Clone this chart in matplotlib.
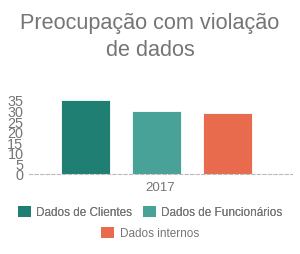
import matplotlib
matplotlib.use("Agg")
import matplotlib.pyplot as plt
from matplotlib.patches import Patch

plt.rcParams['font.family'] = ['Liberation Sans', 'DejaVu Sans']

title_lines = ["Preocupação com violação", "de dados"]
category = ["2017"]
series = ["Dados de Clientes", "Dados de Funcionários", "Dados internos"]
values = [35, 30, 29]
colors = ["#207f73", "#48a297", "#e86b4d"]
yticks = [0, 5, 10, 15, 20, 25, 30, 35]

grey = "#757575"
fig = plt.figure(figsize=(3.0, 2.55), dpi=100)
W, H = 300, 255
l, r, b, t = 29, 292, 175, 101
ax = fig.add_axes([l / W, 1 - b / H, (r - l) / W, (b - t) / H])

offsets = [-1, 0, 1]
for off, v, c, s in zip(offsets, values, colors, series):
    ax.bar(off, v, width=0.69, color=c, edgecolor="white", linewidth=0.6, label=s)

ax.set_xlim((l - 156.5) / 71, (r - 156.5) / 71)
ax.set_ylim(0, 35)
ax.set_yticks(yticks)
ax.set_yticklabels([str(v) for v in yticks], fontsize=10.4, color=grey)
center = ((l + r) / 2 - 156.5) / 71
ax.set_xticks([center])
ax.set_xticklabels(category, fontsize=9.6, color=grey)
ax.tick_params(axis="both", length=0, pad=4)
ax.tick_params(axis="x", pad=5)
for sp in ["top", "right", "left"]:
    ax.spines[sp].set_visible(False)
ax.spines["bottom"].set_color("#bbbbbb")
ax.spines["bottom"].set_linestyle((0, (3, 2)))
ax.spines["bottom"].set_linewidth(0.8)

for line, base in zip(title_lines, [29.5, 56]):
    fig.text(0.5, 1 - base / H, line, ha="center", va="baseline", fontsize=15.6, color=grey)

handles = [Patch(facecolor=c, edgecolor="none") for c in colors]
leg1 = fig.legend(handles[:2], series[:2], loc="center", bbox_to_anchor=(0.5, 1 - 213 / H),
                  ncol=2, frameon=False, fontsize=8.5, handlelength=1.1, handleheight=1.1,
                  handletextpad=0.45, columnspacing=0.9)
for tx in leg1.get_texts():
    tx.set_color(grey)
fig.add_artist(leg1)
leg2 = fig.legend(handles[2:], series[2:], loc="center", bbox_to_anchor=(0.5, 1 - 234 / H),
                  ncol=1, frameon=False, fontsize=8.5, handlelength=1.1, handleheight=1.1,
                  handletextpad=0.45)
for tx in leg2.get_texts():
    tx.set_color(grey)

fig.savefig("out.png", dpi=100)
